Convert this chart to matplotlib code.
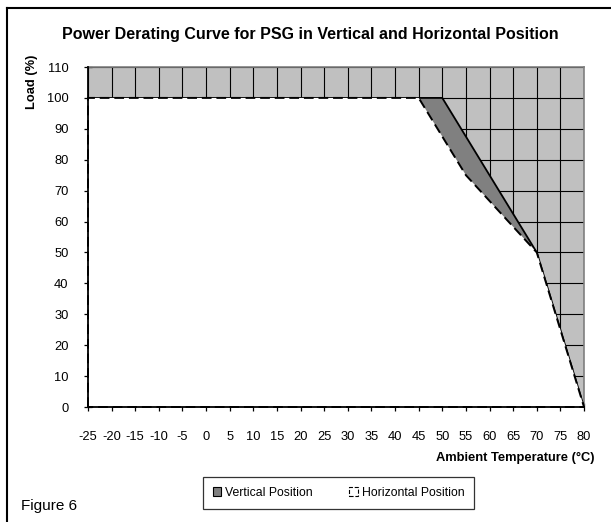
import matplotlib
matplotlib.use("Agg")
import matplotlib.pyplot as plt
from matplotlib.patches import Patch
from matplotlib.lines import Line2D

plt.rcParams['font.family'] = ['Liberation Sans', 'DejaVu Sans']

# Data
x_ticks = list(range(-25, 85, 5))
y_ticks = list(range(0, 120, 10))
temp_vertical = [-25, 50, 70, 80]
load_vertical = [100, 100, 50, 0]
temp_horizontal = [-25, 45, 55, 70, 80]
load_horizontal = [100, 100, 75, 50, 0]

W, H = 611, 522
fig = plt.figure(figsize=(W / 100, H / 100), dpi=100)
fig.patch.set_facecolor('white')

x0, x1, y0, y1 = 88, 584, 67, 407
ax = fig.add_axes([x0 / W, 1 - y1 / H, (x1 - x0) / W, (y1 - y0) / H])
ax.set_facecolor('#C0C0C0')
ax.set_xlim(-25, 80)
ax.set_ylim(0, 110)
ax.set_xticks(x_ticks)
ax.set_yticks(y_ticks)
ax.set_xticklabels([str(v) for v in x_ticks], fontsize=9.3)
ax.set_yticklabels([str(v) for v in y_ticks], fontsize=9.3)
ax.grid(True, color='black', linewidth=0.8, zorder=0)
ax.set_axisbelow(True)

# Vertical position area
ax.fill_between(temp_vertical, 0, load_vertical, facecolor='#808080',
                edgecolor='none', zorder=2)
ax.plot(temp_vertical, load_vertical, color='black', linewidth=1.3, zorder=3)

# Horizontal position area
ax.fill_between(temp_horizontal, 0, load_horizontal, facecolor='white',
                edgecolor='none', zorder=4)
bx = [temp_horizontal[0]] + temp_horizontal + [temp_horizontal[0]]
by = [0] + load_horizontal + [0]
ax.plot(bx, by, color='black', linewidth=1.4, linestyle=(0, (5, 2.5)), zorder=5,
        clip_on=False)

for s in ['top', 'right']:
    ax.spines[s].set_color('#808080')
    ax.spines[s].set_linewidth(1.2)
for s in ['left', 'bottom']:
    ax.spines[s].set_color('black')
    ax.spines[s].set_linewidth(1.3)
    ax.spines[s].set_zorder(6)

ax.tick_params(axis='both', direction='inout', length=6, width=0.9, color='black')
ax.tick_params(axis='x', pad=14)
ax.tick_params(axis='y', pad=11)

fig.text(310 / W, 1 - 35 / H, 'Power Derating Curve for PSG in Vertical and Horizontal Position',
         ha='center', va='center', fontsize=11.5, fontweight='bold')
fig.text(32 / W, 1 - 82 / H, 'Load (%)', rotation=90, ha='center', va='center',
         fontsize=9.3, fontweight='bold')
fig.text(594 / W, 1 - 458 / H, 'Ambient Temperature (°C)', ha='right', va='center',
         fontsize=9.3, fontweight='bold')
fig.text(21 / W, 1 - 506 / H, 'Figure 6', ha='left', va='center', fontsize=11)

handles = [Patch(facecolor='#808080', edgecolor='black', linewidth=0.8),
           Patch(facecolor='white', edgecolor='black', linewidth=0.8, linestyle='--')]
leg = fig.legend(handles, ['Vertical Position', 'Horizontal Position'], ncol=2,
                 loc='center', bbox_to_anchor=(338.5 / W, 1 - 493 / H),
                 fontsize=8.8, frameon=True, fancybox=False, edgecolor='black',
                 handlelength=0.7, handleheight=0.7, handletextpad=0.3,
                 columnspacing=3.0, borderpad=0.8, borderaxespad=0)
leg.get_frame().set_linewidth(0.9)

# Outer border (left and top)
fig.add_artist(Line2D([7 / W, 7 / W], [0, 1 - 8 / H], transform=fig.transFigure,
                      color='black', linewidth=1.5))
fig.add_artist(Line2D([7 / W, 1], [1 - 8 / H, 1 - 8 / H], transform=fig.transFigure,
                      color='black', linewidth=1.5))

fig.savefig('out.png', dpi=100)
